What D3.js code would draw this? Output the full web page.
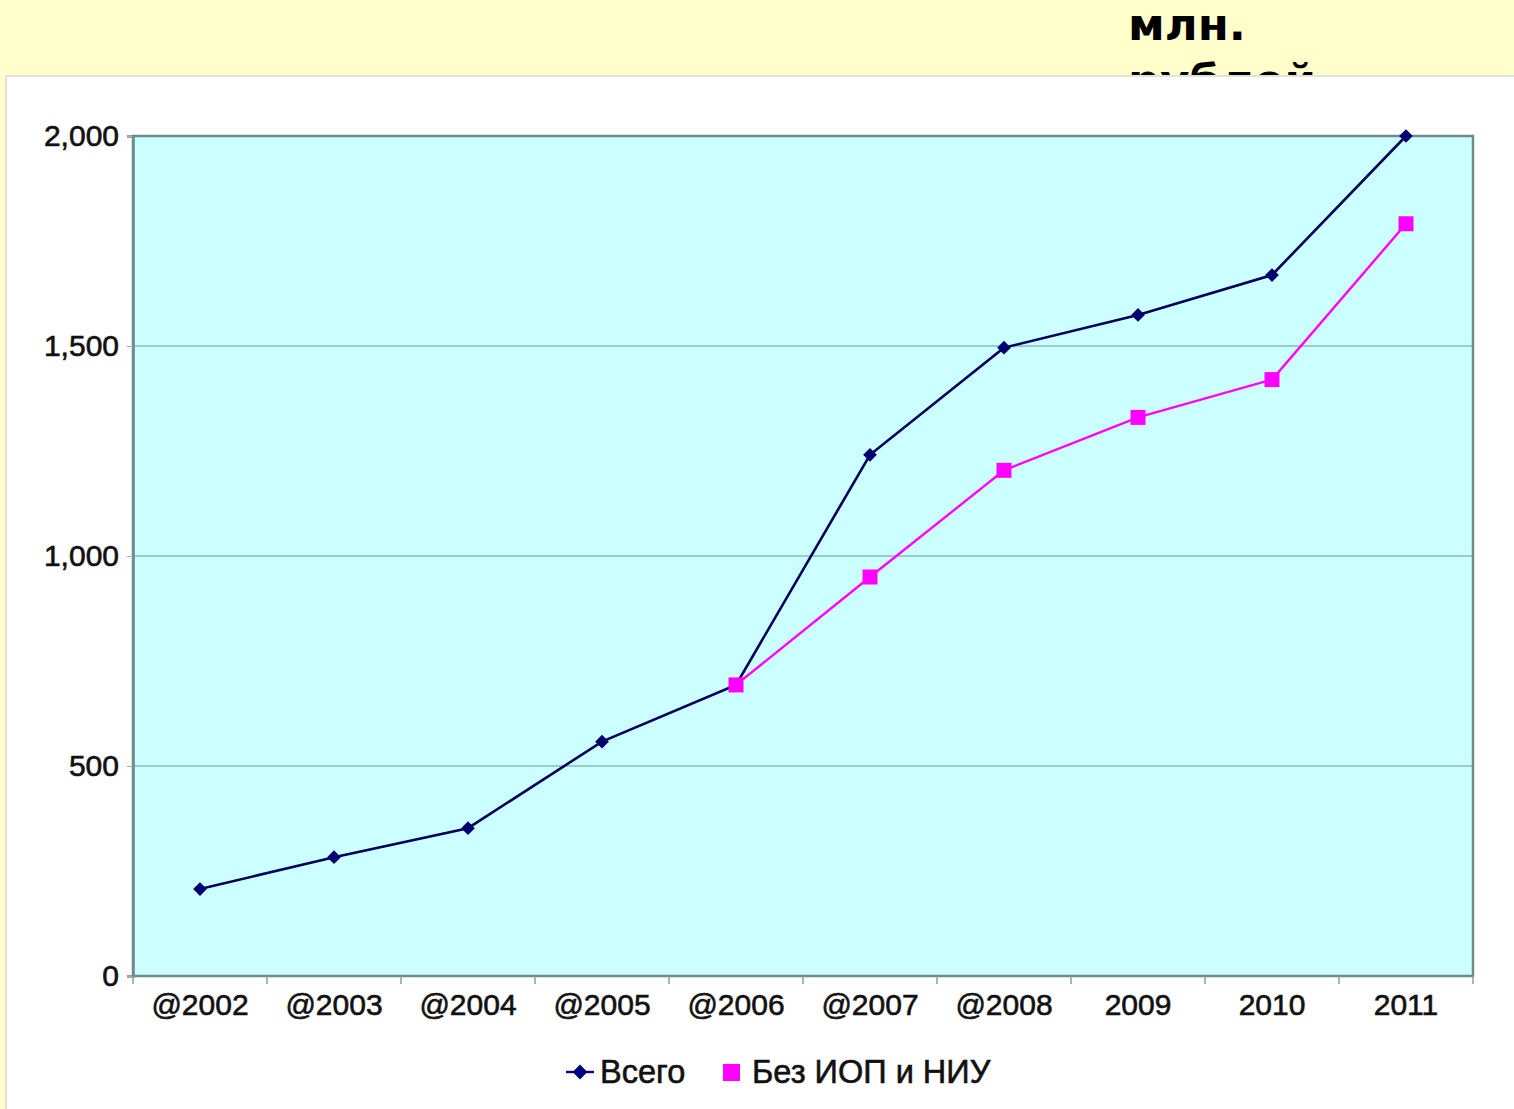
<!DOCTYPE html>
<html>
<head>
<meta charset="utf-8">
<script src="https://cdn.jsdelivr.net/npm/d3@7"></script>
<style>
  body { margin: 0; background: #ffffcc; overflow: hidden; }
  svg { display: block; }
</style>
</head>
<body>
<svg id="chart" width="1514" height="1109"></svg>
<script>
const years = ['@2002', '@2003', '@2004', '@2005', '@2006', '@2007', '@2008', '2009', '2010', '2011'];
const total = [207, 283, 352, 558, 693, 1241, 1496, 1574, 1669, 2000];
const withoutIop = [null, null, null, null, 693, 950, 1204, 1330, 1420, 1791];
const yTicks = [0, 500, 1000, 1500, 2000];
const seriesNames = ['Всего', 'Без ИОП и НИУ'];

const svg = d3.select('#chart');

// heading text, partly hidden by the chart panel
const title = svg.append('text')
    .attr('x', 1128)
    .attr('y', 40)
    .style('font-family', 'DejaVu Sans')
    .style('font-weight', 'bold')
    .style('font-size', '45px')
    .attr('fill', '#000');
title.append('tspan').attr('x', 1128).text('млн.');
title.append('tspan').attr('x', 1128).attr('dy', 56).text('рублей');

// white panel
svg.append('rect')
    .attr('x', 6).attr('y', 76)
    .attr('width', 1520).attr('height', 1050)
    .attr('fill', '#fff')
    .attr('stroke', '#e2e2d6')
    .attr('stroke-width', 2);

const plotL = 133, plotR = 1473, plotT = 136, plotB = 976;

const x = d3.scaleBand().domain(years).range([plotL, plotR]);
const y = d3.scaleLinear().domain([0, 2000]).range([plotB, plotT]);

// plot area
svg.append('rect')
    .attr('x', plotL).attr('y', plotT)
    .attr('width', plotR - plotL).attr('height', plotB - plotT)
    .attr('fill', '#ccffff');

// gridlines
svg.append('g')
  .selectAll('line')
  .data(yTicks.slice(1, -1))
  .enter().append('line')
    .attr('x1', plotL).attr('x2', plotR)
    .attr('y1', d => y(d)).attr('y2', d => y(d))
    .attr('stroke', '#8fb8b8')
    .attr('stroke-width', 1.5);

svg.append('rect')
    .attr('x', plotL).attr('y', plotT)
    .attr('width', plotR - plotL).attr('height', plotB - plotT)
    .attr('fill', 'none')
    .attr('stroke', '#6f8a8a')
    .attr('stroke-width', 2.5);

// y axis
const yAxis = svg.append('g')
    .attr('transform', 'translate(' + plotL + ',0)')
    .call(d3.axisLeft(y).tickValues(yTicks).tickFormat(d3.format(',')).tickSize(6).tickPadding(8));
yAxis.select('.domain').attr('stroke', '#6f8a8a').attr('stroke-width', 2.5);
yAxis.selectAll('.tick line').attr('stroke', '#aaa');
yAxis.selectAll('text')
    .style('font-family', 'Liberation Sans, Arial')
    .style('font-size', '30px')
    .attr('fill', '#111')
    .attr('stroke', '#111')
    .attr('stroke-width', 0.6);

// x axis: labels at band centres, ticks on band edges
const xAxis = svg.append('g')
    .attr('transform', 'translate(0,' + plotB + ')')
    .call(d3.axisBottom(x).tickSize(0).tickPadding(18));
xAxis.select('.domain').remove();
xAxis.selectAll('text')
    .style('font-family', 'Liberation Sans, Arial')
    .style('font-size', '30px')
    .attr('fill', '#111')
    .attr('stroke', '#111')
    .attr('stroke-width', 0.6);

svg.append('g')
  .selectAll('line')
  .data(years.concat(['end']))
  .enter().append('line')
    .attr('x1', (d, i) => plotL + i * x.step())
    .attr('x2', (d, i) => plotL + i * x.step())
    .attr('y1', plotB).attr('y2', plotB + 8)
    .attr('stroke', '#999')
    .attr('stroke-width', 1.5);

const line = d3.line()
    .defined(d => d.v != null)
    .x(d => x(d.year) + x.bandwidth() / 2)
    .y(d => y(d.v));

const totalData = years.map((yr, i) => ({ year: yr, v: total[i] }));
const otherData = years.map((yr, i) => ({ year: yr, v: withoutIop[i] }));

svg.append('path')
    .datum(totalData)
    .attr('d', line)
    .attr('fill', 'none')
    .attr('stroke', '#00005a')
    .attr('stroke-width', 2.6);

svg.append('path')
    .datum(otherData)
    .attr('d', line)
    .attr('fill', 'none')
    .attr('stroke', '#ff00ff')
    .attr('stroke-width', 2.4);

svg.append('g')
  .selectAll('path')
  .data(totalData)
  .enter().append('path')
    .attr('d', d3.symbol().type(d3.symbolDiamond2).size(120))
    .attr('transform', d => 'translate(' + (x(d.year) + x.bandwidth() / 2) + ',' + y(d.v) + ')')
    .attr('fill', '#000070');

svg.append('g')
  .selectAll('rect')
  .data(otherData.filter(d => d.v != null))
  .enter().append('rect')
    .attr('x', d => x(d.year) + x.bandwidth() / 2 - 7.5)
    .attr('y', d => y(d.v) - 7.5)
    .attr('width', 15).attr('height', 15)
    .attr('fill', '#ff00ff');

// legend
const legend = svg.append('g').attr('transform', 'translate(0,1072)');
legend.append('path')
    .attr('d', d3.symbol().type(d3.symbolDiamond2).size(140))
    .attr('transform', 'translate(580,0)')
    .attr('fill', '#000080');
legend.append('line')
    .attr('x1', 566).attr('x2', 594)
    .attr('stroke', '#000080').attr('stroke-width', 2.4);
legend.append('rect')
    .attr('x', 723).attr('y', -8)
    .attr('width', 17).attr('height', 17)
    .attr('fill', '#ff00ff');
legend.selectAll('text.lbl')
  .data(seriesNames)
  .enter().append('text')
    .attr('class', 'lbl')
    .attr('x', (d, i) => i === 0 ? 600 : 752)
    .attr('y', 11)
    .style('font-family', 'Liberation Sans, Arial')
    .style('font-size', '32.5px')
    .attr('fill', '#111')
    .attr('stroke', '#111')
    .attr('stroke-width', 0.6)
    .text(d => d);
</script>
</body>
</html>
